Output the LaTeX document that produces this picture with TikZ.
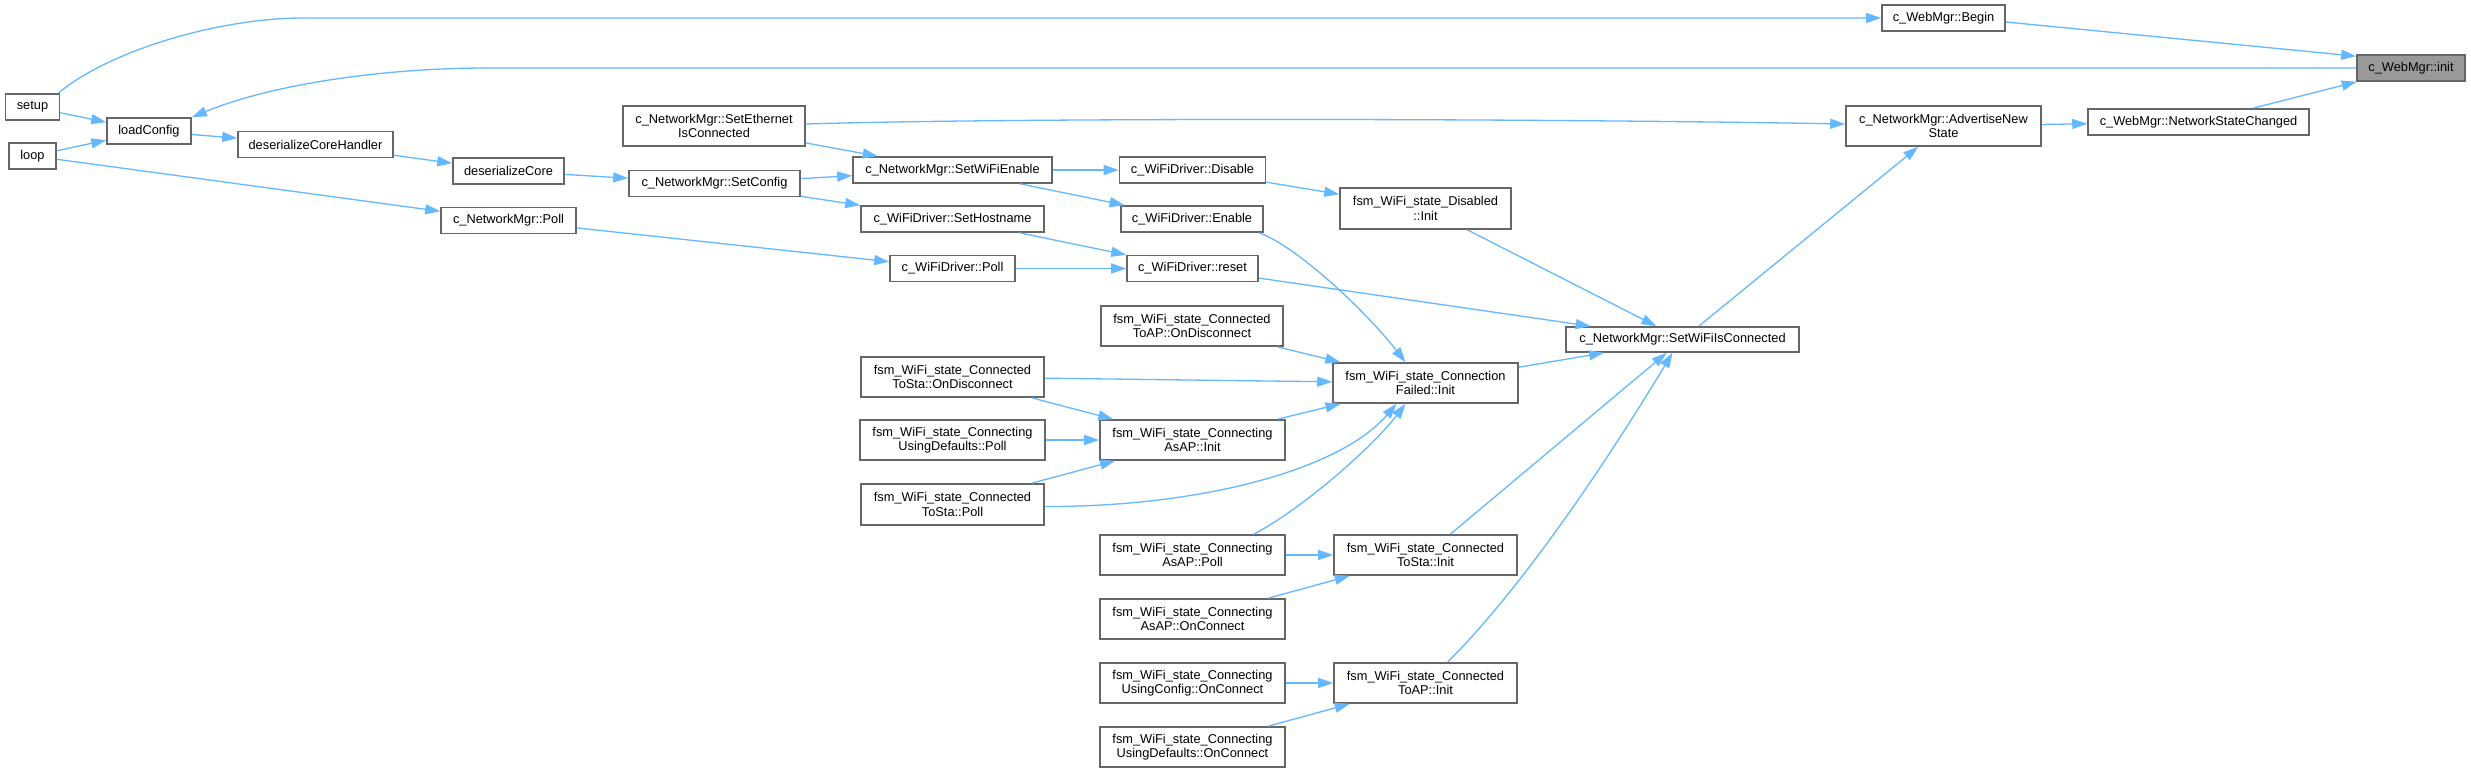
\documentclass[tikz,border=0pt]{standalone}
\usepackage{fontspec}
\setmainfont{Liberation Sans}
\usetikzlibrary{arrows.meta}
\definecolor{edgeblue}{HTML}{63B8FF}
\definecolor{boxgray}{HTML}{666666}
\definecolor{hlgray}{HTML}{999999}
\begin{document}
\begin{tikzpicture}[x=1pt,y=1pt,
  nb/.style={draw=boxgray, line width=1.6pt, fill=white, inner sep=0pt, align=center,
    font=\fontsize{12.8}{14.4}\selectfont, text=black},
  hl/.style={nb, fill=hlgray},
  edge/.style={draw=edgeblue, line width=1.3pt, -{Triangle[length=15pt,width=10pt]}}]
\useasboundingbox[fill=white] (0,0) rectangle (2471,-773);

% nodes
\node[nb, minimum width=54pt, minimum height=26pt] (setup) at (32.5,-107) {setup};
\node[nb, minimum width=47pt, minimum height=26pt] (loop) at (32.5,-156) {loop};
\node[nb, minimum width=84pt, minimum height=26pt] (loadConfig) at (149,-131) {loadConfig};
\node[nb, minimum width=155pt, minimum height=26pt] (dCH) at (315.5,-144.5) {deserializeCoreHandler};
\node[nb, minimum width=111pt, minimum height=26pt] (dC) at (508.5,-171) {deserializeCore};
\node[nb, minimum width=135pt, minimum height=26pt] (NMPoll) at (508.5,-220.5) {c\_NetworkMgr::Poll};
\node[nb, minimum width=182pt, minimum height=40pt] (SetEth) at (714,-126) {c\_NetworkMgr::SetEthernet\\IsConnected};
\node[nb, minimum width=171pt, minimum height=26pt] (SetConfig) at (714.5,-183.5) {c\_NetworkMgr::SetConfig};
\node[nb, minimum width=199pt, minimum height=26pt] (SetWiFiEnable) at (952.5,-170) {c\_NetworkMgr::SetWiFiEnable};
\node[nb, minimum width=146pt, minimum height=26pt] (Disable) at (1192.5,-170) {c\_WiFiDriver::Disable};
\node[nb, minimum width=183pt, minimum height=26pt] (SetHostname) at (952.5,-219) {c\_WiFiDriver::SetHostname};
\node[nb, minimum width=142pt, minimum height=26pt] (Enable) at (1192,-219) {c\_WiFiDriver::Enable};
\node[nb, minimum width=171pt, minimum height=41pt] (DisabledInit) at (1425.5,-208.5) {fsm\_WiFi\_state\_Disabled\\::Init};
\node[nb, minimum width=125pt, minimum height=26pt] (WDPoll) at (952.5,-268.5) {c\_WiFiDriver::Poll};
\node[nb, minimum width=131pt, minimum height=26pt] (reset) at (1192.5,-268.5) {c\_WiFiDriver::reset};
\node[nb, minimum width=182pt, minimum height=40pt] (CtAPOnDisc) at (1192,-326) {fsm\_WiFi\_state\_Connected\\ToAP::OnDisconnect};
\node[nb, minimum width=183pt, minimum height=40pt] (CtStaOnDisc) at (952.5,-377) {fsm\_WiFi\_state\_Connected\\ToSta::OnDisconnect};
\node[nb, minimum width=185pt, minimum height=40pt] (CFInit) at (1425.5,-383) {fsm\_WiFi\_state\_Connection\\Failed::Init};
\node[nb, minimum width=185pt, minimum height=40pt] (CgUDPoll) at (952.5,-440) {fsm\_WiFi\_state\_Connecting\\UsingDefaults::Poll};
\node[nb, minimum width=185pt, minimum height=40pt] (CgAsAPInit) at (1192.5,-440) {fsm\_WiFi\_state\_Connecting\\AsAP::Init};
\node[nb, minimum width=183pt, minimum height=41pt] (CtStaPoll) at (952.5,-504.5) {fsm\_WiFi\_state\_Connected\\ToSta::Poll};
\node[nb, minimum width=185pt, minimum height=40pt] (CgAsAPPoll) at (1192.5,-555) {fsm\_WiFi\_state\_Connecting\\AsAP::Poll};
\node[nb, minimum width=183pt, minimum height=40pt] (CtStaInit) at (1425.5,-555) {fsm\_WiFi\_state\_Connected\\ToSta::Init};
\node[nb, minimum width=185pt, minimum height=40pt] (CgAsAPOnConn) at (1192.5,-619) {fsm\_WiFi\_state\_Connecting\\AsAP::OnConnect};
\node[nb, minimum width=185pt, minimum height=40pt] (CgUCOnConn) at (1192.5,-683) {fsm\_WiFi\_state\_Connecting\\UsingConfig::OnConnect};
\node[nb, minimum width=183pt, minimum height=40pt] (CtAPInit) at (1425.5,-683) {fsm\_WiFi\_state\_Connected\\ToAP::Init};
\node[nb, minimum width=185pt, minimum height=40pt] (CgUDOnConn) at (1192.5,-747) {fsm\_WiFi\_state\_Connecting\\UsingDefaults::OnConnect};
\node[nb, minimum width=233pt, minimum height=25pt] (SWIC) at (1682.5,-339.5) {c\_NetworkMgr::SetWiFiIsConnected};
\node[nb, minimum width=195pt, minimum height=40pt] (ANS) at (1943.5,-126) {c\_NetworkMgr::AdvertiseNew\\State};
\node[nb, minimum width=221pt, minimum height=26pt] (NSC) at (2198.5,-122) {c\_WebMgr::NetworkStateChanged};
\node[nb, minimum width=123pt, minimum height=26pt] (Begin) at (1943.5,-18) {c\_WebMgr::Begin};
\node[hl, minimum width=108pt, minimum height=26pt] (init) at (2411,-68) {c\_WebMgr::init};

% edges
\draw[edge] ([xshift=-2pt]setup.north east) .. controls (110,-50) and (220,-18) .. (303,-18) -- (Begin.west);
\draw[edge] (init.west) -- (488,-68) .. controls (380,-68) and (270,-85) .. (loadConfig.north east);
\draw[edge] (setup) -- (loadConfig);
\draw[edge] (loop) -- (loadConfig);
\draw[edge] (loop) -- (NMPoll);
\draw[edge] (loadConfig) -- (dCH);
\draw[edge] (dCH) -- (dC);
\draw[edge] (dC) -- (SetConfig);
\draw[edge] (SetConfig) -- (SetWiFiEnable);
\draw[edge] (SetConfig) -- (SetHostname);
\draw[edge] (SetEth) -- (SetWiFiEnable);
\draw[edge] ([yshift=2pt]SetEth.east) .. controls (1000,-118) and (1500,-118) .. ([yshift=2pt]ANS.west);
\draw[edge] (SetWiFiEnable) -- (Disable);
\draw[edge] (SetWiFiEnable) -- (Enable);
\draw[edge] (Disable) -- (DisabledInit);
\draw[edge] (SetHostname) -- (reset);
\draw[edge] (NMPoll) -- (WDPoll);
\draw[edge] (WDPoll) -- (reset);
\draw[edge] ([xshift=-5pt]Enable.south east) .. controls (1295,-245) and (1365,-310) .. ([xshift=-20pt]CFInit.north);
\draw[edge] (reset) -- (SWIC);
\draw[edge] (DisabledInit) -- (SWIC);
\draw[edge] (CtAPOnDisc) -- (CFInit);
\draw[edge] (CtStaOnDisc) -- (CFInit);
\draw[edge] (CtStaOnDisc) -- (CgAsAPInit);
\draw[edge] (CgUDPoll) -- (CgAsAPInit);
\draw[edge] (CtStaPoll) -- (CgAsAPInit);
\draw[edge] ([yshift=-2pt]CtStaPoll.east) .. controls (1200,-507) and (1340,-470) .. ([xshift=-29pt]CFInit.south);
\draw[edge] (CgAsAPInit) -- (CFInit);
\draw[edge] ([xshift=-32pt]CgAsAPPoll.north east) .. controls (1300,-510) and (1370,-450) .. ([xshift=-20pt]CFInit.south);
\draw[edge] (CgAsAPPoll) -- (CtStaInit);
\draw[edge] (CgAsAPOnConn) -- (CtStaInit);
\draw[edge] (CgUCOnConn) -- (CtAPInit);
\draw[edge] (CgUDOnConn) -- (CtAPInit);
\draw[edge] (CFInit) -- (SWIC);
\draw[edge] (CtStaInit) -- (SWIC);
\draw[edge] ([xshift=22pt]CtAPInit.north) .. controls (1530,-580) and (1620,-440) .. ([xshift=-10pt]SWIC.south);
\draw[edge] (SWIC) -- (ANS);
\draw[edge] (ANS) -- (NSC);
\draw[edge] (NSC) -- (init);
\draw[edge] ([yshift=-4pt]Begin.east) -- ([yshift=-2pt]init.north west);
\end{tikzpicture}
\end{document}
